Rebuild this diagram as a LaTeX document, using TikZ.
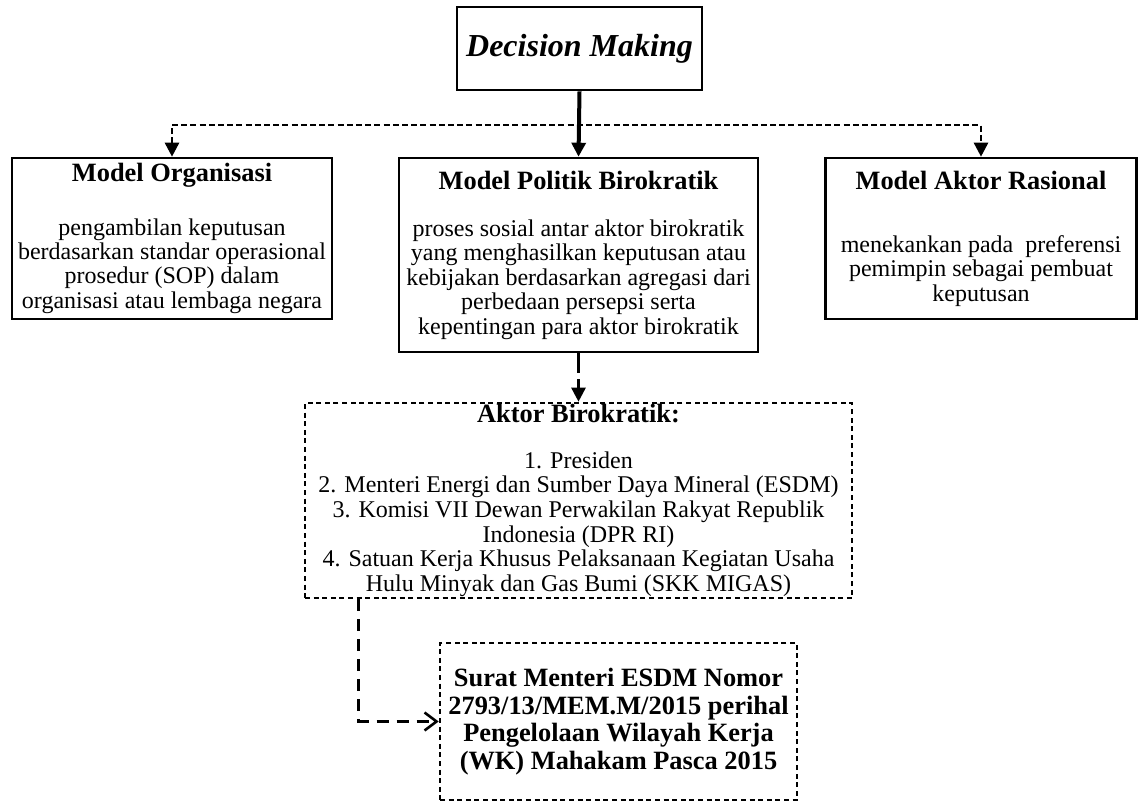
\documentclass[tikz,border=0pt]{standalone}
\usepackage{fontspec}
\setmainfont{Liberation Serif}
\usetikzlibrary{arrows.meta}
\newcommand\boxtitle{\fontsize{13.2}{14}\selectfont\bfseries}

\begin{document}
\begin{tikzpicture}[x=0.5pt,y=-0.5pt]
  \tikzset{ box/.style={draw,line width=1.3pt,align=center,inner sep=0pt,
      font=\fontsize{12}{12.2}\selectfont},
    dbox/.style={box,dash pattern=on 2.5pt off 1.8pt},
    solidarrow/.style={line width=2pt,-{Triangle[length=7pt,width=7pt]}},
    dline/.style={line width=1.3pt,dash pattern=on 3pt off 1.6pt,
      {Triangle[length=7pt,width=7pt]}-{Triangle[length=7pt,width=7pt]}},
    pdash/.style={line width=1.3pt,dash pattern=on 10pt off 3pt,-{Triangle[length=7pt,width=7pt]}},
    ldash/.style={line width=1.3pt,dash pattern=on 6pt off 4pt,-{Straight Barb[length=6pt,width=9pt]}},
  }
  \useasboundingbox (0,0) rectangle (1139,803);
  \node[box,minimum width=122.5pt,minimum height=41.5pt,
    font=\fontsize{16}{18}\selectfont\bfseries\itshape] (dm) at (579.5,48.5) {Decision Making};
  \node[box,minimum width=160pt,minimum height=80.5pt] (org) at (172,238.5)
    {{\boxtitle Model Organisasi}\\[14.5pt]
     pengambilan keputusan\\ berdasarkan standar operasional\\
     prosedur (SOP) dalam\\ organisasi atau lembaga negara};
  \node[box,minimum width=179.5pt,minimum height=97pt] (pol) at (578.5,255)
    {{\boxtitle Model Politik Birokratik}\\[11.5pt]
     proses sosial antar aktor birokratik\\ yang menghasilkan keputusan atau\\
     kebijakan berdasarkan agregasi dari\\ perbedaan persepsi serta\\
     kepentingan para aktor birokratik};
  \node[box,minimum width=155.5pt,minimum height=80.5pt] (ras) at (981,238.5)
    {{\boxtitle Model Aktor Rasional}\\[19.5pt]
     menekankan pada\ \ preferensi\\ pemimpin sebagai pembuat\\ keputusan};
  \node[dbox,minimum width=273.5pt,minimum height=97.5pt,
    font=\fontsize{12}{12.3}\selectfont] (akt) at (578.5,500.5)
    {{\boxtitle Aktor Birokratik:}\\[10.5pt]
     1. Presiden\\ 2. Menteri Energi dan Sumber Daya Mineral (ESDM)\\
     3. Komisi VII Dewan Perwakilan Rakyat Republik\\ Indonesia (DPR RI)\\
     4. Satuan Kerja Khusus Pelaksanaan Kegiatan Usaha\\
     Hulu Minyak dan Gas Bumi (SKK MIGAS)};
  \node[dbox,minimum width=178.5pt,minimum height=78.5pt,
    font=\fontsize{13.2}{13.75}\selectfont\bfseries] (srt) at (618.5,721.5)
    {Surat Menteri ESDM Nomor\\ 2793/13/MEM.M/2015 perihal\\
     Pengelolaan Wilayah Kerja\\ (WK) Mahakam Pasca 2015};

  % connectors between the boxes
  \coordinate (hub) at (579.5,125);
  \draw[dline] (org.north) |- (hub) -| (ras.north);
  \draw[solidarrow] (dm.south) -- (pol.north);
  \draw[pdash] (pol.south) -- (akt.north);
  \draw[ldash] ([xshift=27.5pt]akt.south west) |- (srt.west);
\end{tikzpicture}
\end{document}
